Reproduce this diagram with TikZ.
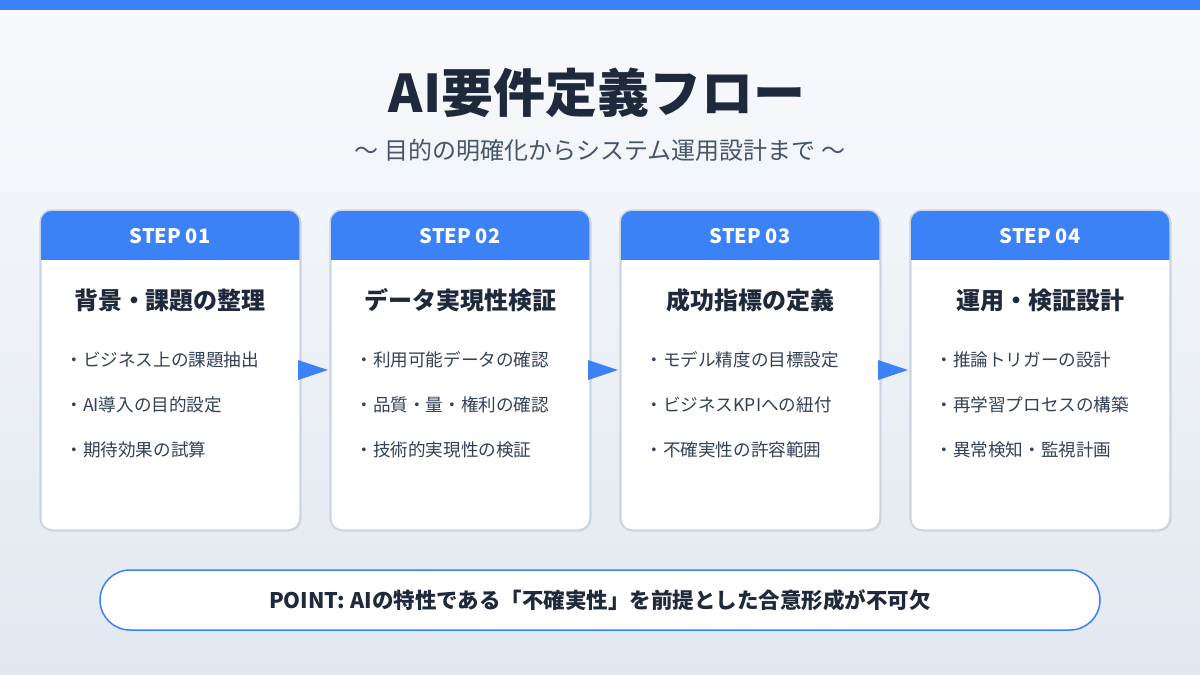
\documentclass[tikz,border=0pt]{standalone}
\usepackage{fontspec}
\setmainfont{Noto Sans CJK JP}
\usetikzlibrary{positioning}
\definecolor{bgtop}{HTML}{F8FAFC}
\definecolor{bgbot}{HTML}{E2E8F0}
\definecolor{blue}{HTML}{3B82F6}
\definecolor{dark}{HTML}{1E293B}
\definecolor{sub}{HTML}{475569}
\definecolor{item}{HTML}{334155}
\definecolor{border}{HTML}{CBD5E1}
\tikzset{
  card/.style={draw=border, line width=1.5pt, fill=white, rounded corners=12pt},
  stephead/.style={text=white, font=\fontsize{20}{22}\selectfont\bfseries},
  cardtitle/.style={text=dark, font=\fontsize{24}{27}\selectfont\bfseries},
  itemtext/.style={text=item, font=\fontsize{17.6}{20}\selectfont, anchor=west},
  flowarrow/.style={fill=blue, draw=none},
}
\newcommand{\stepcard}[4]{%
  \node[card, minimum width=260pt, minimum height=320pt, anchor=north west, inner sep=0pt] (#1) at (#2,-210) {};
  \begin{scope}
    \clip[rounded corners=12pt] (#2,-210) rectangle ++(260,-320);
    \fill[blue] (#2,-210) rectangle ++(260,-50);
  \end{scope}
  \draw[border, line width=1.5pt, rounded corners=12pt] (#2,-210) rectangle ++(260,-320);
  \node[stephead] (#1h) at (#2+130,-236) {#3};
  \node[cardtitle] (#1t) at (#2+130,-300) {#4};
}
\begin{document}
\begin{tikzpicture}[x=1pt,y=1pt]
\useasboundingbox (0,0) rectangle (1200,-675);
\shade[top color=bgtop, bottom color=bgbot] (0,0) rectangle (1200,-675);
\fill[blue] (0,0) rectangle (1200,-10);
\node[text=dark, font=\fontsize{52}{58}\selectfont\bfseries] (title) at (597,-93) {AI要件定義フロー};
\node[text=sub, font=\fontsize{24}{27}\selectfont] (subtitle) at (600,-150) {〜 目的の明確化からシステム運用設計まで 〜};

\stepcard{c1}{40}{STEP 01}{背景・課題の整理}
\stepcard{c2}{330}{STEP 02}{データ実現性検証}
\stepcard{c3}{620}{STEP 03}{成功指標の定義}
\stepcard{c4}{910}{STEP 04}{運用・検証設計}

\node[itemtext] (i11) at (62,-360) {・ビジネス上の課題抽出};
\node[itemtext] (i12) at (62,-405) {・AI導入の目的設定};
\node[itemtext] (i13) at (62,-450) {・期待効果の試算};
\node[itemtext] (i21) at (352,-360) {・利用可能データの確認};
\node[itemtext] (i22) at (352,-405) {・品質・量・権利の確認};
\node[itemtext] (i23) at (352,-450) {・技術的実現性の検証};
\node[itemtext] (i31) at (642,-360) {・モデル精度の目標設定};
\node[itemtext] (i32) at (642,-405) {・ビジネスKPIへの紐付};
\node[itemtext] (i33) at (642,-450) {・不確実性の許容範囲};
\node[itemtext] (i41) at (932,-360) {・推論トリガーの設計};
\node[itemtext] (i42) at (932,-405) {・再学習プロセスの構築};
\node[itemtext] (i43) at (932,-450) {・異常検知・監視計画};

\coordinate (a1) at (298,-370);
\coordinate (a2) at (588,-370);
\coordinate (a3) at (878,-370);
\foreach \a in {a1,a2,a3}{
  \fill[blue] ([yshift=10]\a) -- ([xshift=30]\a) -- ([yshift=-10]\a) -- cycle;
}

\node[draw=blue, line width=1.5pt, fill=white, rounded corners=30pt, minimum width=1000pt, minimum height=60pt, inner sep=0pt] (point) at (600,-600) {};
\node[text=dark, font=\fontsize{21.5}{24}\selectfont\bfseries] (pointtext) at (point) {POINT: AIの特性である「不確実性」を前提とした合意形成が不可欠};
\end{tikzpicture}
\end{document}
